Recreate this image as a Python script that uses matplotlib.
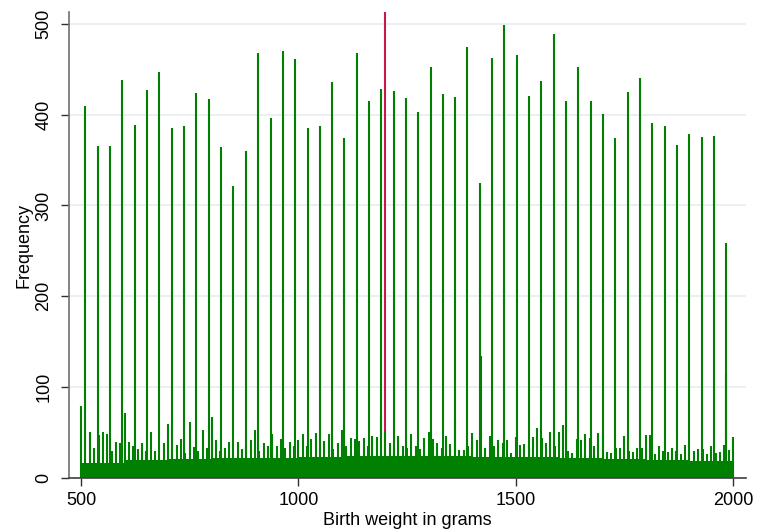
import matplotlib
matplotlib.use("Agg")
import matplotlib.pyplot as plt
import numpy as np

plt.rcParams['font.family'] = ['Liberation Sans', 'DejaVu Sans']

# heaping at whole ounces (18 oz .. 70 oz converted to grams)
ounce_grams = [510, 539, 567, 595, 624, 652, 680, 709, 737, 765,
               794, 822, 850, 879, 907, 936, 964, 992, 1021, 1049,
               1077, 1106, 1134, 1162, 1191, 1219, 1247, 1276, 1304, 1332,
               1361, 1389, 1417, 1446, 1474, 1503, 1531, 1559, 1588, 1616,
               1644, 1673, 1701, 1729, 1758, 1786, 1814, 1843, 1871, 1899,
               1928, 1956, 1984]
ounce_counts = [410, 366, 365, 438, 389, 427, 447, 385, 388, 424,
                417, 364, 322, 360, 468, 396, 470, 461, 385, 387,
                436, 374, 468, 415, 428, 426, 418, 403, 452, 423,
                419, 474, 325, 462, 499, 466, 421, 437, 489, 415,
                452, 415, 401, 374, 425, 440, 391, 388, 367, 379,
                375, 376, 259]

# counts at multiples of 10 g, 500 .. 2000
round10_counts = [
    79, 40, 51, 33, 47, 51, 48, 30, 40, 38,
    72, 40, 35, 32, 38, 30, 51, 30, 35, 38,
    60, 28, 36, 43, 28, 62, 34, 30, 53, 33,
    67, 42, 30, 33, 40, 30, 40, 32, 35, 42,
    53, 30, 38, 35, 48, 35, 43, 33, 40, 35,
    42, 48, 35, 43, 50, 33, 41, 48, 32, 39,
    53, 35, 44, 43, 41, 44, 35, 46, 45, 68,
    52, 38, 33, 46, 35, 33, 48, 35, 32, 44,
    51, 43, 38, 33, 46, 37, 65, 31, 31, 35,
    50, 42, 40, 33, 46, 35, 42, 38, 42, 28,
    45, 36, 37, 35, 45, 55, 44, 38, 51, 35,
    51, 58, 30, 27, 43, 42, 48, 44, 35, 49,
    52, 29, 28, 33, 33, 46, 30, 29, 33, 33,
    47, 47, 26, 35, 30, 29, 33, 30, 26, 36,
    26, 30, 32, 32, 26, 35, 28, 29, 36, 31,
    45]

# typical count of the other gram values, per 100 g block (500s .. 1900s)
base_counts = [17, 20, 21, 22, 22, 23, 24, 24, 24, 23, 23, 22, 21, 20, 19]

# odd conversions (x.5 g rounding)
extra_grams = [1420, 1985]
extra_counts = [134, 115]

highlight_gram = 1200
highlight_count = 513

weights = np.arange(500, 2001)
block = np.clip((weights - 500) // 100, 0, len(base_counts) - 1)
counts = np.array(base_counts)[block].astype(float)
counts[(np.arange(500, 2001, 10) - 500)] = round10_counts
counts[np.array(ounce_grams) - 500] = ounce_counts
counts[np.array(extra_grams) - 500] = extra_counts

green = '#008000'
fig = plt.figure(figsize=(7.63, 5.32), dpi=100)
ax = fig.add_axes([0.0904, 0.1015, 0.8873, 0.8759])

ax.vlines([highlight_gram], 0, [highlight_count], colors='#c8184a',
          linewidth=1.5, zorder=2)
ax.vlines(weights, 0, counts, colors=green, linewidth=1.5, zorder=3)

ax.set_xlim(472, 2030)
ax.set_ylim(0, 513)
ax.set_xticks([500, 1000, 1500, 2000])
ax.set_yticks([0, 100, 200, 300, 400, 500])
ax.grid(axis='y', color='#e6edf0', linewidth=1.2, zorder=0)
ax.set_axisbelow(True)

for s in ['top', 'right']:
    ax.spines[s].set_visible(False)
ax.spines['left'].set_color('#707070')
ax.spines['left'].set_linewidth(1.2)
ax.spines['bottom'].set_color('#404040')
ax.spines['bottom'].set_linewidth(1.2)
ax.spines['bottom'].set_zorder(4)

ax.tick_params(axis='both', labelsize=13, length=6, width=1.0,
               color='#303030', direction='out')
ax.tick_params(axis='y', pad=6)
ax.tick_params(axis='x', pad=4)
for lab in ax.get_yticklabels():
    lab.set_rotation(90)
    lab.set_va('center')

ax.set_xlabel('Birth weight in grams', fontsize=13, labelpad=2)
ax.set_ylabel('Frequency', fontsize=13, labelpad=2)

fig.savefig('out.png', dpi=100, facecolor='white')
